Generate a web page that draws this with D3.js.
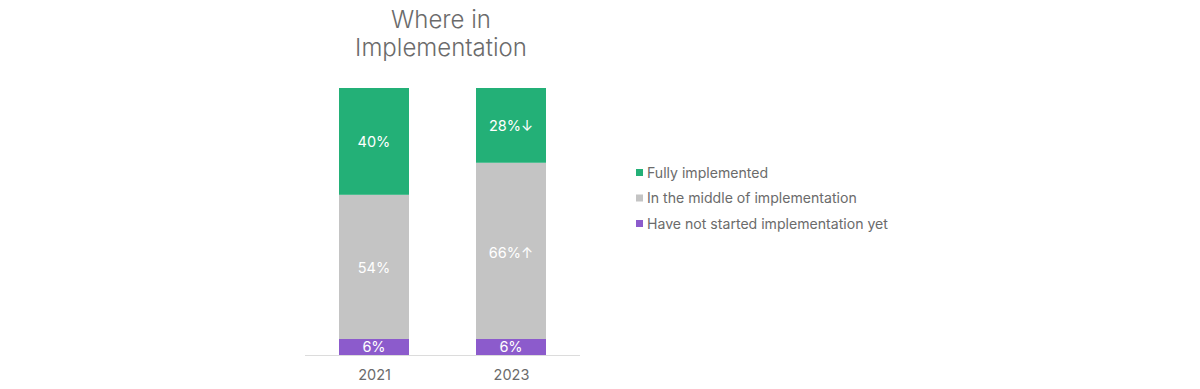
<!DOCTYPE html>
<html>
<head>
<meta charset="utf-8">
<script src="https://cdn.jsdelivr.net/npm/d3@7"></script>
<style>
    body { margin: 0; background: #fff; }
    text { font-family: Inter, "Noto Sans", sans-serif; }
</style>
</head>
<body>
<div id="chart"></div>
<script>
//data:
var years = ["2021", "2023"];
var seriesNames = ["Have not started implementation yet", "In the middle of implementation", "Fully implemented"];
var notStarted = [6, 6];
var inMiddle = [54, 66];
var fully = [40, 28];
var labelText = [
    ["6%", "6%"],
    ["54%", "66%\u2191"],
    ["40%", "28%\u2193"]
];
var colors = ["#8c5bcc", "#c4c4c4", "#23b077"];

var width = 1200, height = 389;

var svg = d3.select("#chart")
    .append("svg")
    .attr("width", width)
    .attr("height", height);

//title
svg.append("text")
    .attr("x", 441)
    .attr("y", 28)
    .attr("text-anchor", "middle")
    .attr("font-size", 24)
    .attr("font-weight", 300)
    .attr("fill", "#6b6b6b")
    .selectAll("tspan")
    .data(["Where in", "Implementation"])
    .enter().append("tspan")
    .attr("x", 441)
    .attr("dy", function (d, i) { return i === 0 ? 0 : 28; })
    .text(function (d) { return d; });

//scales
var xScale = d3.scalePoint().domain(years).range([374, 511]);
var barWidth = 70;

var yScale = d3.scaleLinear()
    .domain([0, 100])
    .range([355, 88]);

//stack
var table = years.map(function (y, i) {
    return { year: y, s0: notStarted[i], s1: inMiddle[i], s2: fully[i] };
});
var stack = d3.stack().keys(["s0", "s1", "s2"]);
var layers = stack(table);

var groups = svg.selectAll(".layer")
    .data(layers)
    .enter().append("g")
    .attr("class", "layer")
    .attr("fill", function (d, i) { return colors[i]; });

groups.selectAll("rect")
    .data(function (d) { return d; })
    .enter().append("rect")
    .attr("x", function (d) { return xScale(d.data.year) - barWidth / 2; })
    .attr("y", function (d) { return yScale(d[1]); })
    .attr("width", barWidth)
    .attr("height", function (d) { return yScale(d[0]) - yScale(d[1]); });

//value labels
groups.each(function (layer, li) {
    d3.select(this).selectAll(".val")
        .data(layer)
        .enter().append("text")
        .attr("class", "val")
        .attr("x", function (d) { return xScale(d.data.year); })
        .attr("y", function (d, i) {
            // labels sit a bit above centre in the reference
            var mid = (yScale(d[0]) + yScale(d[1])) / 2;
            if (li === 2 && i === 1) mid = yScale(d[1]) + 38;
            if (li === 1 && i === 1) mid = yScale(d[1]) + 90;
            if (li === 1 && i === 0) mid = yScale(d[1]) + 73;
            return mid;
        })
        .attr("dy", "0.36em")
        .attr("text-anchor", "middle")
        .attr("font-size", 14.5)
        .attr("fill", "#ffffff")
        .text(function (d, i) { return labelText[li][i]; });
});

//x axis
var xAxis = d3.axisBottom(xScale).tickSize(0).tickPadding(14);
var axisG = svg.append("g")
    .attr("class", "axis")
    .attr("transform", "translate(0,355.5)")
    .call(xAxis);
axisG.select(".domain").remove();
axisG.append("line")
    .attr("x1", 305)
    .attr("x2", 580)
    .attr("stroke", "#dcdcdc")
    .attr("stroke-width", 1);
axisG.selectAll(".tick text")
    .attr("font-size", 14.5)
    .attr("fill", "#6b6b6b")
    .style("font-family", "Inter, 'Noto Sans', sans-serif");

//legend
var legendNames = seriesNames.slice().reverse();
var legendColors = colors.slice().reverse();
var legend = svg.selectAll(".legend")
    .data(legendNames)
    .enter().append("g")
    .attr("class", "legend")
    .attr("transform", function (d, i) { return "translate(636," + (173 + i * 25.5) + ")"; });

legend.append("rect")
    .attr("x", 0)
    .attr("y", -4)
    .attr("width", 7)
    .attr("height", 7)
    .attr("fill", function (d, i) { return legendColors[i]; });

legend.append("text")
    .attr("x", 11)
    .attr("y", 0)
    .attr("dy", "0.35em")
    .attr("font-size", 14.1)
    .attr("fill", "#6b6b6b")
    .text(function (d) { return d; });
</script>
</body>
</html>
